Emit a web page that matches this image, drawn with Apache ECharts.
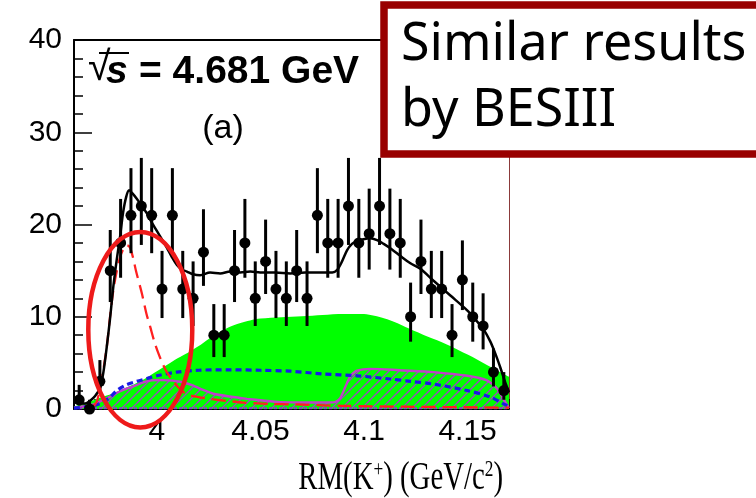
<!DOCTYPE html>
<html><head><meta charset="utf-8">
<script src="https://cdn.jsdelivr.net/npm/echarts@6/dist/echarts.min.js"></script>
<style>html,body{margin:0;padding:0;background:#fff}#c{width:756px;height:498px}</style>
</head><body><div id="c"></div>
<script>
// ---- data (RM(K+) in GeV/c^2, events per 5 MeV) ----
const massBins = [3.9625,3.9675,3.9725,3.9775,3.9825,3.9875,3.9925,3.9975,4.0025,4.0075,4.0125,4.0175,4.0225,4.0275,4.0325,4.0375,4.0425,4.0475,4.0525,4.0575,4.0625,4.0675,4.0725,4.0775,4.0825,4.0875,4.0925,4.0975,4.1025,4.1075,4.1125,4.1175,4.1225,4.1275,4.1325,4.1375,4.1425,4.1475,4.1525,4.1575,4.1625,4.1675];
const counts = [1,0,3,15,18,21,22,21,13,21,13,12,17,8,8,15,18,12,16,13,12,15,12,21,18,18,22,18,19,22,19,18,10,16,13,13,8,14,10,9,4,2];

const totalFitX = [3.960,3.9626,3.9654,3.9678,3.9702,3.9726,3.9742,3.9758,3.9774,3.9790,3.9807,3.9823,3.9837,3.9852,3.9866,3.9881,3.9903,3.9928,3.9952,3.9976,4.0000,4.0024,4.0048,4.0072,4.0097,4.0121,4.0145,4.0175,4.0209,4.0257,4.0306,4.0354,4.0402,4.0451,4.0499,4.0571,4.0644,4.0716,4.0789,4.0847,4.0871,4.0894,4.0918,4.0942,4.0966,4.0997,4.1030,4.1063,4.1095,4.1135,4.1175,4.1224,4.1272,4.1336,4.1417,4.1498,4.1538,4.1578,4.1610,4.1634,4.1658,4.1683,4.1700];
const totalFitY = [0.8,0.6,0.6,0.9,1.4,2.3,4.0,6.7,9.8,13.3,16.3,18.8,21.3,23.0,23.7,23.4,22.8,22.0,21.2,20.2,19.3,18.4,17.5,16.5,15.6,15.1,14.9,14.6,14.5,14.8,14.7,14.9,14.8,14.9,14.8,14.8,14.7,14.8,14.8,14.8,15.1,16.0,17.2,17.9,18.2,18.4,18.5,18.3,17.9,17.3,16.6,15.8,15.2,13.9,12.3,10.7,9.7,8.6,7.3,6.0,4.5,2.8,1.8];

const signalX = [3.9690,3.9710,3.9726,3.9742,3.9758,3.9774,3.9790,3.9807,3.9823,3.9840,3.9856,3.9870,3.9885,3.9900,3.9928,3.9950,3.9968,3.9988,4.0008,4.0028,4.0048,4.0080,4.0110,4.0145,4.0200,4.0257,4.0350,4.0417,4.0550,4.0658,4.0886,4.1200,4.1700];
const signalY = [0.2,0.8,2.3,4.3,6.7,10.0,12.9,15.0,16.5,17.4,17.75,17.5,16.4,14.9,12.5,10.3,8.9,7.3,6.0,4.9,4.0,3.0,2.2,1.6,1.3,1.1,0.85,0.7,0.55,0.5,0.35,0.25,0.15];

const bkgGreenX = [3.960,3.965,3.970,3.975,3.980,3.985,3.990,3.995,4.000,4.005,4.010,4.015,4.020,4.025,4.030,4.035,4.040,4.045,4.050,4.060,4.070,4.080,4.090,4.100,4.105,4.110,4.115,4.120,4.125,4.130,4.140,4.150,4.160,4.165,4.170];
const bkgGreenY = [0.3,0.6,1.0,1.4,1.8,2.3,2.8,3.4,4.1,4.8,5.5,6.1,6.8,7.6,8.3,8.9,9.3,9.6,9.8,9.95,10.05,10.2,10.3,10.3,10.1,9.8,9.4,8.9,8.4,7.9,7.0,5.9,4.7,4.1,3.5];

const bkgBlueX = [3.960,3.968,3.9726,3.977,3.9807,3.985,3.9903,3.9952,4.000,4.0097,4.020,4.035,4.050,4.0644,4.080,4.0966,4.1127,4.1224,4.1336,4.1498,4.161,4.1674,4.170];
const bkgBlueY = [0.1,0.3,0.6,1.2,2.0,2.6,3.0,3.3,3.6,4.0,4.2,4.25,4.2,4.1,3.8,3.6,3.25,3.0,2.7,2.0,1.3,0.55,0.3];

const bkgHatchX = [3.960,3.965,3.9694,3.9742,3.9774,3.982,3.9855,3.9903,3.9935,3.9975,4.0016,4.006,4.0113,4.017,4.022,4.0273,4.035,4.0435,4.052,4.0596,4.070,4.080,4.086,4.0886,4.091,4.0935,4.0966,4.103,4.110,4.1175,4.1336,4.1498,4.1594,4.1643,4.1675,4.1691,4.170];
const bkgHatchY = [0.15,0.3,0.5,1.0,1.35,1.9,2.2,2.6,2.9,3.1,3.15,3.1,2.95,2.6,2.1,1.65,1.35,1.1,0.9,0.75,0.7,0.7,0.75,1.2,2.4,3.6,4.15,4.35,4.3,4.2,4.0,3.6,3.1,2.2,1.0,0.4,0.1];

const baseLineX = [3.960,4.170];
const baseLineY = [0.08,0.08];

const xTickLabels = [4, 4.05, 4.1, 4.15];
const ellipseCenter = [3.992, 8.6];   // annotation ellipse, data coords
const ellipseRadius = [0.0251, 10.6];

// ---- helpers ----
const pairs = (xs, ys) => xs.map((x, i) => [x, ys[i]]);
function poissonInterval(n) { const s = Math.sqrt(n + 0.25); return [Math.max(0, n - s + 0.5), n + s + 0.5]; }

const pc = document.createElement('canvas'); pc.width = 10; pc.height = 10;
const g = pc.getContext('2d');
g.fillStyle = '#00ff00'; g.fillRect(0, 0, 10, 10);
g.strokeStyle = '#9a48c0'; g.lineWidth = 1.3;
g.beginPath(); g.moveTo(-1, 11); g.lineTo(11, -1); g.moveTo(-1, 1); g.lineTo(1, -1); g.moveTo(9, 11); g.lineTo(11, 9); g.stroke();

const chart = echarts.init(document.getElementById('c'), null, { renderer: 'canvas' });
const SANS = 'Liberation Sans, Arial, Helvetica, sans-serif';
const xCommon = { type: 'value', min: 3.96, max: 4.17, splitLine: { show: false } };

chart.setOption({
  animation: false,
  backgroundColor: '#fff',
  grid: { left: 74, right: 247, top: 40, bottom: 89, containLabel: false },
  xAxis: [
    Object.assign({}, xCommon, {
      position: 'bottom', interval: 0.01,
      axisLine: { show: true, lineStyle: { color: '#000', width: 2 } },
      axisTick: { show: true, inside: true, length: 10, lineStyle: { color: '#000', width: 1.5 } },
      axisLabel: { show: true, customValues: xTickLabels, formatter: v => String(+(+v).toFixed(2)), fontFamily: SANS, fontSize: 30, color: '#000', margin: 8 }
    }),
    Object.assign({}, xCommon, {
      position: 'bottom',
      axisLine: { show: false },
      axisTick: { show: true, inside: true, length: 20, customValues: xTickLabels, lineStyle: { color: '#000', width: 1.5 } },
      axisLabel: { show: false }
    }),
    Object.assign({}, xCommon, {
      position: 'top',
      axisLine: { show: true, lineStyle: { color: '#000', width: 2 } },
      axisTick: { show: false }, axisLabel: { show: false }
    })
  ],
  yAxis: [
    { type: 'value', min: 0, max: 40, interval: 10, position: 'left',
      axisLine: { show: true, lineStyle: { color: '#000', width: 2 } },
      axisTick: { show: true, inside: true, length: 18, lineStyle: { color: '#000', width: 1.5 } },
      minorTick: { show: true, splitNumber: 5, length: 9, lineStyle: { color: '#000', width: 1.5 } },
      axisLabel: { fontFamily: SANS, fontSize: 30, color: '#000', margin: 12 },
      splitLine: { show: false } },
    { type: 'value', min: 0, max: 40, position: 'right',
      axisLine: { show: true, lineStyle: { color: '#8b3a3a', width: 1 } },
      axisTick: { show: false }, axisLabel: { show: false }, splitLine: { show: false } }
  ],
  series: [
    { name: 'bkgGreen', type: 'line', data: pairs(bkgGreenX, bkgGreenY), symbol: 'none', smooth: 0.3,
      lineStyle: { width: 0 }, areaStyle: { color: '#00ff00', opacity: 1 }, z: 1 },
    { name: 'bkgHatch', type: 'line', data: pairs(bkgHatchX, bkgHatchY), symbol: 'none', smooth: 0.2,
      lineStyle: { color: '#c040c8', width: 2.4 }, areaStyle: { color: { image: pc, repeat: 'repeat' }, opacity: 1 }, z: 2 },
    { name: 'base', type: 'line', data: pairs(baseLineX, baseLineY), symbol: 'none',
      lineStyle: { color: '#8a3ad0', width: 2, type: [3, 2] }, z: 3 },
    { name: 'bkgBlue', type: 'line', data: pairs(bkgBlueX, bkgBlueY), symbol: 'none', smooth: 0.3,
      lineStyle: { color: '#1a1ae6', width: 3.2, type: [6, 4] }, z: 4 },
    { name: 'signal', type: 'line', data: pairs(signalX, signalY), symbol: 'none', smooth: 0.3,
      lineStyle: { color: '#ff2020', width: 2.3, type: [14, 7] }, z: 5 },
    { name: 'total', type: 'line', data: pairs(totalFitX, totalFitY), symbol: 'none', smooth: 0.3,
      lineStyle: { color: '#000', width: 2.5 }, z: 6 },
    { name: 'errors', type: 'custom',
      data: massBins.map((m, i) => { const iv = poissonInterval(counts[i]); return [m, iv[0], iv[1]]; }),
      encode: { x: 0, y: [1, 2] },
      renderItem: (params, api) => {
        const x = api.value(0);
        const lo = api.coord([x, api.value(1)]);
        const hi = api.coord([x, api.value(2)]);
        return { type: 'line', shape: { x1: lo[0], y1: lo[1], x2: hi[0], y2: hi[1] }, style: { stroke: '#000', lineWidth: 3 } };
      }, z: 7 },
    { name: 'data', type: 'scatter', data: pairs(massBins, counts), symbol: 'circle', symbolSize: 11,
      itemStyle: { color: '#000', opacity: 1 }, z: 8 }
  ]
});

function buildGraphics() {
  const c0 = chart.convertToPixel({ xAxisIndex: 0, yAxisIndex: 0 }, ellipseCenter);
  const c1 = chart.convertToPixel({ xAxisIndex: 0, yAxisIndex: 0 }, [ellipseCenter[0] + ellipseRadius[0], ellipseCenter[1] + ellipseRadius[1]]);
  chart.setOption({
    graphic: [
      { type: 'text', z: 100, x: 88, y: 69, style: { text: '√', font: '41px ' + SANS, fill: '#000', verticalAlign: 'middle' } },
      { type: 'line', z: 100, shape: { x1: 99, y1: 53, x2: 129, y2: 53 }, style: { stroke: '#000', lineWidth: 2 } },
      { type: 'text', z: 100, x: 106, y: 72, style: { text: 's', font: 'italic bold 39px ' + SANS, fill: '#000', verticalAlign: 'middle' } },
      { type: 'text', z: 100, x: 139, y: 72, style: { text: '= 4.681 GeV', font: 'bold 39px ' + SANS, fill: '#000', verticalAlign: 'middle' } },
      { type: 'text', z: 100, x: 223, y: 129, style: { text: '(a)', font: '34px ' + SANS, fill: '#000', align: 'center', verticalAlign: 'middle' } },
      { type: 'text', z: 100, x: 503, y: 478, scaleX: 0.72,
        style: { text: '{n|RM(K}{s|+}{n|) (GeV/c}{s|2}{n|)}', align: 'right', verticalAlign: 'middle', fill: '#000',
          rich: { n: { fontFamily: 'Liberation Serif, Times New Roman, serif', fontSize: 40, lineHeight: 40, fill: '#000' },
                  s: { fontFamily: 'Liberation Serif, Times New Roman, serif', fontSize: 24, lineHeight: 26, verticalAlign: 'top', fill: '#000' } } } },
      { type: 'ellipse', z: 110, shape: { cx: c0[0], cy: c0[1], rx: Math.abs(c1[0] - c0[0]), ry: Math.abs(c1[1] - c0[1]) },
        style: { fill: 'none', stroke: '#ee1a1a', lineWidth: 4.5 } },
      { type: 'rect', z: 120, shape: { x: 384, y: 5, width: 400, height: 149 }, style: { fill: '#fff', stroke: '#990000', lineWidth: 7.5 } },
      { type: 'text', z: 121, x: 401, y: 45, style: { text: 'Similar results', font: '52px "Noto Sans", "Open Sans", sans-serif', fill: '#000', verticalAlign: 'middle' } },
      { type: 'text', z: 121, x: 401, y: 111.5, style: { text: 'by BESIII', font: '52px "Noto Sans", "Open Sans", sans-serif', fill: '#000', verticalAlign: 'middle' } }
    ]
  });
}
buildGraphics();
</script></body></html>
